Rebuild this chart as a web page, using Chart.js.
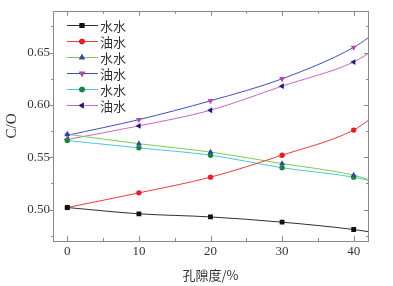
<!DOCTYPE html>
<html>
<head>
<meta charset="utf-8">
<script src="https://cdn.jsdelivr.net/npm/chart.js@4/dist/chart.umd.min.js"></script>
<style>
    html, body { margin: 0; padding: 0; background: #fff; }
    #wrap { width: 393px; height: 286px; }
</style>
</head>
<body>
<div id="wrap"><canvas id="chart"></canvas></div>
<script>
// porosity (%) - last point is where the fitted curve meets the frame
const porosity = [0, 10, 20, 30, 40, 42];
const seriesNames = ['水水', '油水', '水水', '油水', '水水', '油水'];

const s1 = [0.502, 0.496, 0.493, 0.488, 0.481, 0.479];
const s2 = [0.502, 0.516, 0.531, 0.552, 0.576, 0.585];
const s3 = [0.572, 0.563, 0.555, 0.544, 0.533, 0.529];
const s4 = [0.571, 0.586, 0.604, 0.625, 0.655, 0.664];
const s5 = [0.566, 0.559, 0.552, 0.540, 0.531, 0.528];
const s6 = [0.567, 0.580, 0.595, 0.618, 0.641, 0.649];

const xTicks = [0, 10, 20, 30, 40];
const yTicks = [0.50, 0.55, 0.60, 0.65];

const styles = [
    { line: '#303030', point: '#111111', shape: 'rect', rot: 0, r: 3.4 },
    { line: '#f03a3a', point: '#ee1c24', shape: 'circle', rot: 0, r: 2.7 },
    { line: '#80c850', point: '#2a48b0', shape: 'triangle', rot: 0, r: 3.4 },
    { line: '#3c50c0', point: '#c040b0', shape: 'triangle', rot: 180, r: 3.4 },
    { line: '#48c8d8', point: '#128a3a', shape: 'circle', rot: 0, r: 2.7 },
    { line: '#c864c8', point: '#1c1c78', shape: 'triangle', rot: 270, r: 3.4 }
];

const allSeries = [s1, s2, s3, s4, s5, s6];

const datasets = allSeries.map((vals, i) => ({
    label: seriesNames[i],
    data: vals.map((v, j) => ({ x: porosity[j], y: v })),
    borderColor: styles[i].line,
    borderWidth: 1,
    backgroundColor: styles[i].point,
    pointBackgroundColor: styles[i].point,
    pointBorderColor: styles[i].point,
    pointStyle: styles[i].shape,
    pointRotation: styles[i].rot,
    pointRadius: ctx => (ctx.raw && ctx.raw.x > 40 ? 0 : styles[i].r),
    pointBorderWidth: 0,
    tension: 0.3,
    cubicInterpolationMode: 'monotone',
    fill: false
}));

// frame + tick marks like the origin plot
const framePlugin = {
    id: 'frame',
    afterDraw(chart) {
        const ctx = chart.ctx;
        const a = chart.chartArea;
        const xs = chart.scales.x;
        const ys = chart.scales.y;
        ctx.save();
        ctx.strokeStyle = '#8a8a8a';
        ctx.lineWidth = 1;
        ctx.strokeRect(Math.round(a.left) + 0.5, Math.round(a.top) + 0.5,
            Math.round(a.right - a.left), Math.round(a.bottom - a.top));

        ctx.beginPath();
        const xMarks = [];
        xTicks.forEach(v => xMarks.push([v, 5]));
        for (let i = 0; i < xTicks.length; i++) xMarks.push([xTicks[i] + 5, 3]);
        xMarks.push([-5, 3]);
        xMarks.forEach(([v, len]) => {
            const px = Math.round(xs.getPixelForValue(v)) + 0.5;
            if (px < a.left || px > a.right) return;
            ctx.moveTo(px, a.bottom);
            ctx.lineTo(px, a.bottom - len);
            ctx.moveTo(px, a.top);
            ctx.lineTo(px, a.top + len);
        });
        const yMarks = [];
        yTicks.forEach(v => yMarks.push([v, 4]));
        yTicks.forEach(v => yMarks.push([v + 0.025, 2]));
        yMarks.push([0.475, 2]);
        yMarks.forEach(([v, len]) => {
            const py = Math.round(ys.getPixelForValue(v)) + 0.5;
            if (py < a.top || py > a.bottom) return;
            ctx.moveTo(a.left, py);
            ctx.lineTo(a.left - len, py);
            ctx.moveTo(a.right, py);
            ctx.lineTo(a.right - len, py);
        });
        ctx.stroke();
        ctx.restore();
    }
};

// legend with line + marker, upper left inside the plot
const legendPlugin = {
    id: 'lineLegend',
    afterDatasetsDraw(chart) {
        const ctx = chart.ctx;
        ctx.save();
        chart.data.datasets.forEach((ds, i) => {
            const y = 25 + i * 16;
            ctx.strokeStyle = ds.borderColor;
            ctx.lineWidth = 1;
            ctx.beginPath();
            ctx.moveTo(67, y + 0.5);
            ctx.lineTo(98, y + 0.5);
            ctx.stroke();
            Chart.helpers.drawPoint(ctx, {
                pointStyle: ds.pointStyle,
                rotation: ds.pointRotation,
                radius: styles[i].r,
                borderWidth: 0
            }, 82, y + 0.5);
            ctx.fillStyle = ds.pointBackgroundColor;
            ctx.fill();
            ctx.fillStyle = '#333';
            ctx.font = '13px "Noto Sans CJK SC", sans-serif';
            ctx.textBaseline = 'middle';
            ctx.fillText(ds.label, 100, y + 1);
        });
        ctx.restore();
    }
};

new Chart(document.getElementById('chart'), {
    type: 'line',
    data: { datasets: datasets },
    plugins: [framePlugin, legendPlugin],
    options: {
        responsive: true,
        maintainAspectRatio: false,
        animation: false,
        layout: { padding: { left: 0, right: 25, top: 9, bottom: 0 } },
        plugins: {
            legend: { display: false },
            tooltip: { enabled: false }
        },
        scales: {
            x: {
                type: 'linear',
                min: -2,
                max: 42,
                grid: { display: false, drawTicks: false },
                border: { display: false },
                afterBuildTicks: scale => { scale.ticks = xTicks.map(v => ({ value: v })); },
                afterFit: scale => { scale.height = 45; },
                ticks: {
                    padding: 3,
                    color: '#333',
                    font: { family: '"Liberation Serif", serif', size: 13 }
                },
                title: {
                    display: true,
                    text: '孔隙度/%',
                    color: '#333',
                    padding: { top: 0, bottom: 3 },
                    font: { family: '"Noto Sans CJK SC", sans-serif', size: 13 }
                }
            },
            y: {
                min: 0.47,
                max: 0.69,
                grid: { display: false, drawTicks: false },
                border: { display: false },
                afterBuildTicks: scale => { scale.ticks = yTicks.map(v => ({ value: v })); },
                afterFit: scale => { scale.width = 53; },
                ticks: {
                    padding: 3,
                    color: '#333',
                    font: { family: '"Liberation Serif", serif', size: 13 },
                    callback: v => v.toFixed(2)
                },
                title: {
                    display: true,
                    text: 'C/O',
                    color: '#333',
                    padding: { top: 3, bottom: 0 },
                    font: { family: '"Liberation Serif", serif', size: 15 }
                }
            }
        }
    }
});
</script>
</body>
</html>
